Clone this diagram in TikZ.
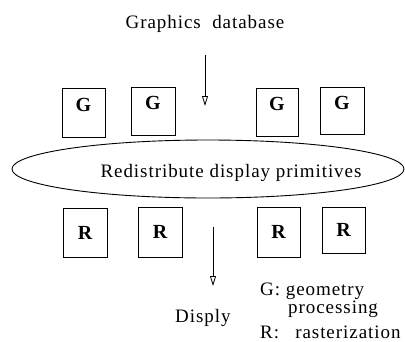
\documentclass[tikz,border=0pt]{standalone}
\usepackage{fontspec}
\setmainfont{Liberation Serif}
\newfontfamily\spacedserif[LetterSpace=5]{Liberation Serif}
\usetikzlibrary{shapes.geometric,arrows.meta}

\begin{document}
\begin{tikzpicture}[x=1pt,y=-1pt,
  unit/.style={draw,line width=0.9pt,inner sep=0pt},
  unitletter/.style={font=\fontsize{20}{22}\selectfont\bfseries,inner sep=0pt},
  lbl/.style={font=\spacedserif\fontsize{19}{21}\selectfont,inner sep=0pt},
  flow/.style={line width=0.8pt,-{Triangle[open,length=10pt,width=6pt]}}]
\useasboundingbox (0,0) rectangle (405,341);

% input and the downward feed
\node[lbl,anchor=base] (src) at (205,28) {Graphics\hspace{0.6em}database};
\coordinate (inTop) at (205,55);
\coordinate (inTip) at (205,106);
\draw[flow] (inTop) -- (inTip);

% geometry processors
\node[unit,minimum width=43pt,minimum height=49pt] (g1) at (83.5,112.5) {};
\node[unit,minimum width=44pt,minimum height=48pt] (g2) at (153,111) {};
\node[unit,minimum width=42pt,minimum height=48pt] (g3) at (277,112) {};
\node[unit,minimum width=44pt,minimum height=47pt] (g4) at (342,110.5) {};
\foreach \b in {g1,g2,g3,g4}
  \node[unitletter] at ([yshift=8pt]\b.center) {G};

% redistribution stage
\node[draw,ellipse,line width=0.9pt,inner sep=0pt,
      minimum width=392pt,minimum height=58pt] (bus) at (208,169) {};
\node[lbl,anchor=base] (busText) at (231,177) {Redistribute display primitives};

% rasterizers
\node[unit,minimum width=44pt,minimum height=49pt] (r1) at (85,232.5) {};
\node[unit,minimum width=44pt,minimum height=50pt] (r2) at (160,232) {};
\node[unit,minimum width=43pt,minimum height=50pt] (r3) at (278.5,232) {};
\node[unit,minimum width=43pt,minimum height=46pt] (r4) at (343.5,230) {};
\foreach \b in {r1,r2,r3,r4}
  \node[unitletter] at (\b.center) {R};

% output
\coordinate (outTop) at (213,227);
\coordinate (outTip) at (213,286);
\draw[flow] (outTop) -- (outTip);
\node[lbl,anchor=base west] (dst) at (175,322) {Disply};

% legend
\node[lbl,anchor=base west] (legG) at (260,295) {G: geometry};
\node[lbl,anchor=base west] (legG2) at (288,313) {processing};
\node[lbl,anchor=base west] (legR) at (260,338) {R:\hspace{0.85em}rasterization};
\end{tikzpicture}
\end{document}
